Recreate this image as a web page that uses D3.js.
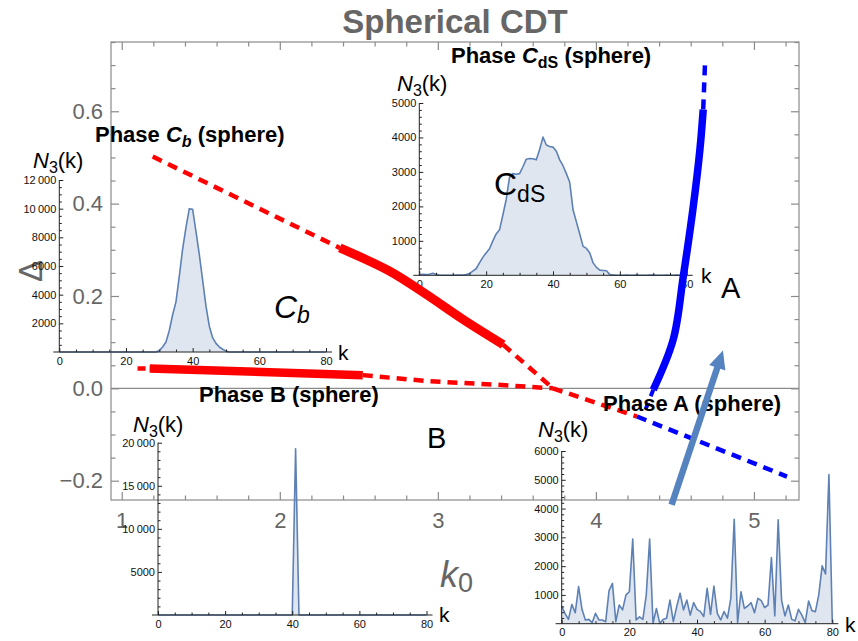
<!DOCTYPE html>
<html>
<head>
<meta charset="utf-8">
<script src="https://cdn.jsdelivr.net/npm/d3@7"></script>
<style>
body { margin: 0; background: #fff; }
text { font-family: "Liberation Sans", Arial, Helvetica, sans-serif; }
</style>
</head>
<body>
<div id="chart"></div>
<script>
// ---- main phase diagram (k0 vs Delta) ----
var k0Domain = [0.932, 5.285];
var deltaDomain = [-0.2418, 0.75];
var k0Ticks = [1, 2, 3, 4, 5];
var deltaTicks = [-0.2, 0, 0.2, 0.4, 0.6];

// transition lines as [k0, Delta]
var cbDashUpper = [[1.196, 0.502], [2.38, 0.304]];
var cbSolid = [[2.38, 0.304], [2.696, 0.2535], [2.928, 0.203], [3.16, 0.149], [3.413, 0.0947]];
var cbDashLower = [[3.413, 0.0947], [3.728, 0.0]];
var bDashLeft = [[1.10, 0.043], [1.177, 0.0427]];
var bSolid = [[1.177, 0.0427], [2.525, 0.0286]];
var bDashRight = [[2.525, 0.0286], [2.949, 0.0152], [3.371, 0.008], [3.728, 0.0]];
var aRedDash = [[3.728, 0.0], [4.26, -0.061]];
var aBlueDash = [[4.26, -0.061], [5.209, -0.191]];
var cdsSolid = [[4.363, -0.003], [4.489, 0.1055], [4.553, 0.2427], [4.616, 0.394], [4.658, 0.517], [4.679, 0.604]];
var cdsDashTop = [[4.679, 0.604], [4.690, 0.701]];
var cdsDashLow = [[4.363, -0.003], [4.315, -0.045]];
var arrowPts = [[4.479, -0.252], [4.804, 0.0817]];

// ---- inset histograms N3(k) ----
var cbK = [0, 29, 30, 31, 32, 33, 34, 35, 36, 37, 38, 39, 40, 41, 42, 43, 44, 45, 46, 47, 48, 49, 50, 51, 80];
var cbN = [0, 0, 100, 350, 700, 1500, 2600, 3500, 5300, 7200, 8700, 10000, 9950, 8400, 6800, 5000, 3200, 1800, 1000, 600, 350, 190, 60, 0, 0];

var cdsN = [10, 30, 20, 30, 60, 30, 10, 0, 0, 0, 0, 10, 10, 10, 20,
            50, 120, 190, 360, 520, 650, 770, 1000, 1200, 1320, 1750, 2200, 2850, 2950, 2930, 2950,
            3150, 3370, 3390, 3380, 3350, 3650, 4010, 3780, 3740, 3720, 3600, 3350, 3180, 2950, 2700,
            1900, 1550, 1200, 840, 780, 650, 360, 230, 150, 140, 130, 20, 10, 0, 0,
            0, 5, 0, 0, 5, 0, 0, 0, 5, 5, 0, 0, 0, 5, 0, 0, 5, 0, 0, 0];

var bK = [0, 40, 41, 42, 80];
var bN = [0, 0, 19300, 0, 0];

var aN = [600, 350, 150, 670, 380, 1290, 500, 130, 150, 35, 360, 130, 130, 70, 1150, 1400, 70,
          650, 480, 1000, 1110, 2940, 130, 240, 150, 1000, 2940, 10, 530, 10, 150, 190, 820,
          70, 590, 1060, 480, 820, 300, 730, 500, 420, 250, 1230, 325, 1310, 360, 130, 420,
          190, 880, 3630, 35, 1110, 530, 615, 730, 380, 880, 800, 560, 650, 2300, 270, 3610,
          820, 270, 650, 150, 100, 500, 300, 35, 790, 450, 420, 1000, 2010, 1730, 5180, 35];

var kIndex = d3.range(0, 81);

var width = 858, height = 641;
var plot = {left: 111, right: 799, top: 42, bottom: 500};
var frameColor = "#8a8a8a";
var labelGrey = "#666";

var svg = d3.select("#chart").append("svg")
    .attr("width", width)
    .attr("height", height);

var defs = svg.append("defs");
defs.append("marker")
    .attr("id", "head")
    .attr("markerUnits", "userSpaceOnUse")
    .attr("viewBox", "-20 -10 22 20")
    .attr("markerWidth", 22)
    .attr("markerHeight", 20)
    .attr("refX", 0).attr("refY", 0)
    .attr("orient", "auto")
    .append("path")
    .attr("d", "M0,0L-18,-8.5L-18,8.5Z")
    .attr("fill", "#5583c0");

var x = d3.scaleLinear().domain(k0Domain).range([plot.left, plot.right]);
var y = d3.scaleLinear().domain(deltaDomain).range([plot.bottom, plot.top]);

function notMajor(step) {
    return function(v) { return Math.abs(v / step - Math.round(v / step)) > 1e-6; };
}
var k0Minor = d3.range(1, 5.21, 0.2).filter(notMajor(1));
var deltaMinor = d3.range(-0.2, 0.751, 0.05).filter(notMajor(0.2));

// frame
svg.append("rect")
    .attr("x", plot.left).attr("y", plot.top)
    .attr("width", plot.right - plot.left).attr("height", plot.bottom - plot.top)
    .attr("fill", "none").attr("stroke", frameColor).attr("stroke-width", 1.2);

// zero line
svg.append("line")
    .attr("x1", plot.left).attr("x2", plot.right)
    .attr("y1", y(0)).attr("y2", y(0))
    .attr("stroke", frameColor).attr("stroke-width", 1.2);

function frameAxis(axis, tx, ty) {
    var g = svg.append("g")
        .attr("transform", "translate(" + tx + "," + ty + ")")
        .call(axis);
    g.select(".domain").remove();
    g.attr("font-size", 22).attr("font-family", null);
    g.selectAll("line").attr("stroke", frameColor).attr("stroke-width", 1.2);
    g.selectAll("text").attr("fill", labelGrey);
    return g;
}

frameAxis(d3.axisBottom(x).tickValues(k0Ticks).tickSizeInner(-8).tickSizeOuter(0).tickPadding(12).tickFormat(d3.format("d")), 0, plot.bottom);
frameAxis(d3.axisBottom(x).tickValues(k0Minor).tickSizeInner(-4.5).tickSizeOuter(0).tickFormat(""), 0, plot.bottom);
frameAxis(d3.axisTop(x).tickValues(k0Ticks).tickSizeInner(-8).tickSizeOuter(0).tickFormat(""), 0, plot.top);
frameAxis(d3.axisTop(x).tickValues(k0Minor).tickSizeInner(-4.5).tickSizeOuter(0).tickFormat(""), 0, plot.top);
frameAxis(d3.axisLeft(y).tickValues(deltaTicks).tickSizeInner(-8).tickSizeOuter(0).tickPadding(8).tickFormat(d3.format(".1f")), plot.left, 0);
frameAxis(d3.axisLeft(y).tickValues(deltaMinor).tickSizeInner(-4.5).tickSizeOuter(0).tickFormat(""), plot.left, 0);
frameAxis(d3.axisRight(y).tickValues(deltaTicks).tickSizeInner(-8).tickSizeOuter(0).tickFormat(""), plot.right, 0);
frameAxis(d3.axisRight(y).tickValues(deltaMinor).tickSizeInner(-4.5).tickSizeOuter(0).tickFormat(""), plot.right, 0);

// title and axis labels
svg.append("text")
    .attr("x", 455).attr("y", 33)
    .attr("text-anchor", "middle")
    .attr("font-weight", "bold").attr("font-size", 33)
    .attr("fill", labelGrey)
    .text("Spherical CDT");

svg.append("text")
    .attr("transform", "translate(42,271) rotate(-90)")
    .attr("text-anchor", "middle")
    .attr("font-size", 33)
    .attr("fill", labelGrey)
    .text("Δ");

var k0Label = svg.append("text")
    .attr("x", 440).attr("y", 587)
    .attr("fill", labelGrey);
k0Label.append("tspan").attr("font-style", "italic").attr("font-size", 36).text("k");
k0Label.append("tspan").attr("font-size", 27).attr("dy", 5).text("0");

// ---- insets ----
function groupThousands(d) {
    return d >= 10000 ? d3.format(",")(d).replace(",", "\u2009") : d3.format("d")(d);
}

function inset(o) {
    var xs = d3.scaleLinear().domain([0, 80]).range([o.x0, o.x1]);
    var ys = d3.scaleLinear().domain([0, o.yMax]).range([o.y0, o.yTop]);
    var g = svg.append("g");
    var pts = d3.zip(o.k, o.n);

    g.append("path").datum(pts)
        .attr("d", d3.area().x(function(d) { return xs(d[0]); }).y0(ys(0)).y1(function(d) { return ys(d[1]); }))
        .attr("fill", "rgb(94,129,181)").attr("fill-opacity", 0.2);
    g.append("path").datum(pts)
        .attr("d", d3.line().x(function(d) { return xs(d[0]); }).y(function(d) { return ys(d[1]); }))
        .attr("fill", "none").attr("stroke", "#5e81b5").attr("stroke-width", 1.6)
        .attr("stroke-linejoin", "round");

    // axis lines
    g.append("line")
        .attr("x1", xs(-1.8)).attr("x2", xs(81.8))
        .attr("y1", ys(0)).attr("y2", ys(0))
        .attr("stroke", "#222").attr("stroke-width", 1);
    g.append("line")
        .attr("x1", xs(0)).attr("x2", xs(0))
        .attr("y1", ys(0)).attr("y2", ys(o.yMax))
        .attr("stroke", "#222").attr("stroke-width", 1);

    function ax(axis, tx, ty) {
        var a = g.append("g").attr("transform", "translate(" + tx + "," + ty + ")").call(axis);
        a.select(".domain").remove();
        a.attr("font-size", 11).attr("font-family", null);
        a.selectAll("line").attr("stroke", "#222");
        a.selectAll("text").attr("fill", "#111");
        return a;
    }
    var xMajor = [0, 20, 40, 60, 80];
    var xMinor = d3.range(0, 81, 5).filter(notMajor(20));
    ax(d3.axisBottom(xs).tickValues(xMajor).tickSizeInner(-4).tickSizeOuter(0).tickPadding(5).tickFormat(d3.format("d")), 0, ys(0));
    ax(d3.axisBottom(xs).tickValues(xMinor).tickSizeInner(-2.5).tickSizeOuter(0).tickFormat(""), 0, ys(0));
    var yMajor = d3.range(o.yStep, o.yMax + 1, o.yStep);
    var yMinor = d3.range(o.yMinor, o.yMax + 1, o.yMinor).filter(notMajor(o.yStep));
    ax(d3.axisLeft(ys).tickValues(yMajor).tickSizeInner(-4).tickSizeOuter(0).tickPadding(3).tickFormat(groupThousands), xs(0), 0);
    ax(d3.axisLeft(ys).tickValues(yMinor).tickSizeInner(-2.5).tickSizeOuter(0).tickFormat(""), xs(0), 0);

    // N3(k) and k labels
    var nl = g.append("text").attr("x", o.nx).attr("y", o.ny).attr("font-size", 22).attr("fill", "#000");
    nl.append("tspan").attr("font-style", "italic").text("N");
    nl.append("tspan").attr("font-size", 16).attr("dy", 5).text("3");
    nl.append("tspan").attr("dy", -5).text("(k)");
    g.append("text").attr("x", o.kx).attr("y", o.ky).attr("font-size", 21).attr("fill", "#000").text("k");
}

inset({k: cbK, n: cbN, x0: 59.3, x1: 326, y0: 352, yTop: 180, yMax: 12000, yStep: 2000, yMinor: 500,
       nx: 33, ny: 168, kx: 338, ky: 360});
inset({k: kIndex, n: cdsN, x0: 419.3, x1: 686.7, y0: 275.3, yTop: 103, yMax: 5000, yStep: 1000, yMinor: 200,
       nx: 397, ny: 91, kx: 701, ky: 283});
inset({k: bK, n: bN, x0: 158, x1: 426.5, y0: 615, yTop: 442.7, yMax: 20000, yStep: 5000, yMinor: 1000,
       nx: 133, ny: 432, kx: 439, ky: 622});
inset({k: kIndex, n: aN, x0: 561.7, x1: 832.3, y0: 623.7, yTop: 451, yMax: 6000, yStep: 1000, yMinor: 200,
       nx: 538, ny: 437, kx: 845, ky: 632});

// ---- transition lines ----
var line = d3.line().x(function(d) { return x(d[0]); }).y(function(d) { return y(d[1]); });
var smooth = d3.line().curve(d3.curveCatmullRom).x(function(d) { return x(d[0]); }).y(function(d) { return y(d[1]); });
function trace(pts, color, w, dash, gen) {
    svg.append("path").datum(pts)
        .attr("d", gen || line)
        .attr("fill", "none")
        .attr("stroke", color)
        .attr("stroke-width", w)
        .attr("stroke-dasharray", dash || null)
        .attr("stroke-linejoin", "round");
}
var red = "#ff0000", blue = "#0000ff";
trace(cbDashUpper, red, 4.5, "10,7");
trace(cbSolid, red, 9, null, smooth);
trace(cbDashLower, red, 4.5, "10,7");
trace(bDashLeft, red, 4.5, "8,4");
trace(bSolid, red, 8.5);
trace(bDashRight, red, 4.5, "10,7");
trace(aRedDash, red, 4.5, "10,7");
trace(aBlueDash, blue, 4.5, "10,7");
trace(cdsSolid, blue, 7.5, null, smooth);
trace(cdsDashTop, blue, 4.5, "10,7");
trace(cdsDashLow, blue, 4, "7,7");

// ---- phase labels ----
function phaseLabel(px, py, parts) {
    var t = svg.append("text").attr("x", px).attr("y", py)
        .attr("font-size", 22).attr("font-weight", "bold").attr("fill", "#000");
    parts.forEach(function(p) {
        var s = t.append("tspan").text(p.s);
        if (p.italic) s.attr("font-style", "italic");
        if (p.small) s.attr("font-size", 16);
        if (p.dy) s.attr("dy", p.dy);
    });
}
phaseLabel(95, 142, [{s: "Phase "}, {s: "C", italic: true}, {s: "b", italic: true, small: true, dy: 5}, {s: " (sphere)", dy: -5}]);
phaseLabel(451, 63, [{s: "Phase "}, {s: "C", italic: true}, {s: "dS", small: true, dy: 5}, {s: " (sphere)", dy: -5}]);
phaseLabel(199, 402, [{s: "Phase B (sphere)"}]);
phaseLabel(603, 411, [{s: "Phase A (sphere)"}]);

svg.append("text").attr("x", 721).attr("y", 298).attr("font-size", 29).text("A");
svg.append("text").attr("x", 427).attr("y", 448).attr("font-size", 29).text("B");

var cbText = svg.append("text").attr("x", 274).attr("y", 318)
    .attr("font-family", "'Liberation Serif', 'Times New Roman', serif")
    .attr("font-style", "italic").attr("font-size", 32);
cbText.append("tspan").text("C");
cbText.append("tspan").attr("font-size", 23).attr("dy", 5).text("b");

var cdsText = svg.append("text").attr("x", 494).attr("y", 195).attr("font-size", 32);
cdsText.append("tspan").text("C");
cdsText.append("tspan").attr("font-size", 23).attr("dy", 7).text("dS");

// ---- arrow A -> CdS ----
var a0 = [x(arrowPts[0][0]), y(arrowPts[0][1])];
var a1 = [x(arrowPts[1][0]), y(arrowPts[1][1])];
var len = Math.hypot(a1[0] - a0[0], a1[1] - a0[1]);
var ux = (a1[0] - a0[0]) / len, uy = (a1[1] - a0[1]) / len;
svg.append("line")
    .attr("x1", a0[0]).attr("y1", a0[1])
    .attr("x2", a1[0] - ux * 12).attr("y2", a1[1] - uy * 12)
    .attr("stroke", "#5583c0").attr("stroke-width", 6.5);
svg.append("line")
    .attr("x1", a1[0] - ux * 12).attr("y1", a1[1] - uy * 12)
    .attr("x2", a1[0]).attr("y2", a1[1])
    .attr("stroke", "none")
    .attr("marker-end", "url(#head)");
</script>
</body>
</html>
